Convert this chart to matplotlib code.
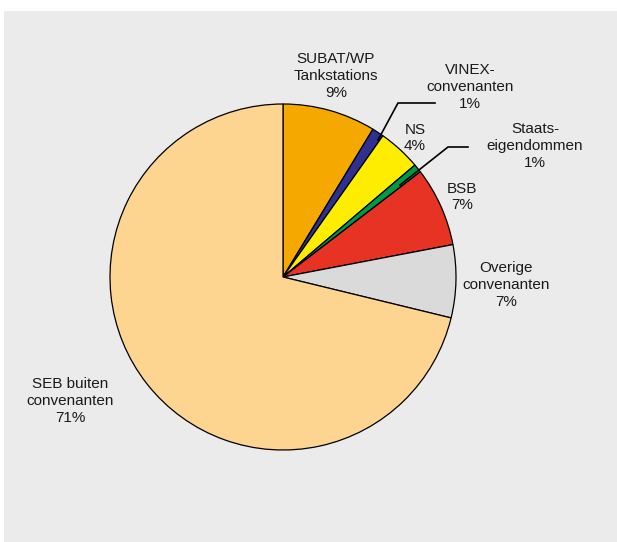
import matplotlib.pyplot as plt
from matplotlib.patches import Rectangle

labels = ['SUBAT/WP\nTankstations\n9%', 'VINEX-\nconvenanten\n1%', 'NS\n4%',
          'Staats-\neigendommen\n1%', 'BSB\n7%', 'Overige\nconvenanten\n7%',
          'SEB buiten\nconvenanten\n71%']
shares = [8.7, 1.1, 4.0, 0.8, 7.4, 6.8, 71.2]
colors = ['#f5a800', '#2e3192', '#ffed00', '#009a44', '#e63323', '#dadada', '#fdd591']
# label centres in pixel coords (x, y from top)
label_pos = [(336, 76), (470, 87), (415, 138), (535, 146), (462, 197), (506, 285), (70, 401)]

W, H = 617, 542
plt.rcParams['font.family'] = ['Liberation Sans', 'DejaVu Sans']

fig = plt.figure(figsize=(W / 100, H / 100), dpi=100)
ax = fig.add_axes([0, 0, 1, 1])

ax.add_patch(Rectangle((4, 0), W - 4, H - 11, facecolor='#ebebeb', edgecolor='none', zorder=0))

cx, cy, r = 283, H - 277, 173
ax.pie(shares, colors=colors, startangle=90, counterclock=False,
       center=(cx, cy), radius=r, frame=True,
       wedgeprops=dict(edgecolor='black', linewidth=0.9))
ax.set_xlim(0, W)
ax.set_ylim(0, H)
ax.set_aspect('equal')
ax.axis('off')

for txt, (x, y) in zip(labels, label_pos):
    ax.text(x, H - y, txt, ha='center', va='center', fontsize=11, linespacing=1.24, color='#1a1a1a')

# leader lines
ax.plot([378, 398, 435], [H - 140, H - 103, H - 103], color='black', lw=1.2)
ax.plot([400, 448, 468], [H - 185, H - 147, H - 147], color='black', lw=1.2)

fig.savefig('out.png', dpi=100)
